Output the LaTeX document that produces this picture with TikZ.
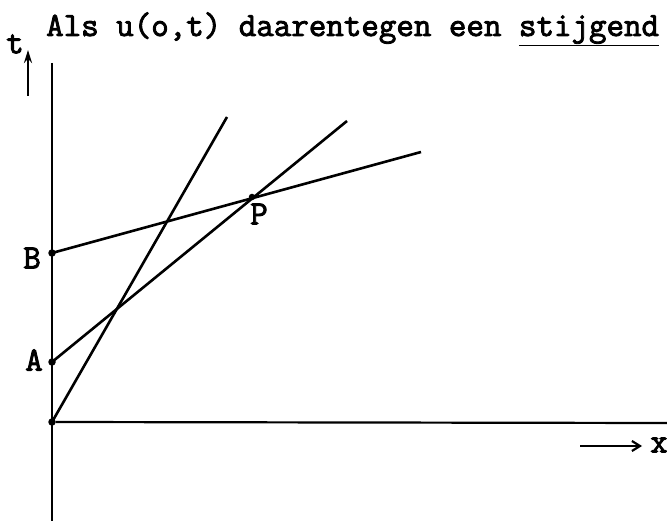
\documentclass[tikz,border=0pt]{standalone}
\usepackage{fontspec}
\newfontfamily\typew{Latin Modern Mono}[FakeBold=2.6,AutoFakeBold=2.6]
\usetikzlibrary{arrows.meta}
\begin{document}
\begin{tikzpicture}[x=1pt,y=-1pt,
  every node/.style={font=\typew\bfseries\fontsize{34}{35}\selectfont},
  dot/.style={circle,fill,inner sep=0pt,minimum size=7.5pt},
  chr/.style={line width=2.6pt}]
\useasboundingbox (0,0) rectangle (667,521);
% title line
\node[anchor=base west,inner sep=0pt] (title) at (46,36) {Als u(o,t) daarentegen een \underline{stijgend}};
% axes
\coordinate (ttop) at (52,63);
\coordinate (tbot) at (52,521);
\coordinate (xend) at (667,423);
\node[dot] (O) at (52,422) {};
\node[dot] (A) at (52,362) {};
\node[dot] (B) at (52,253) {};
\draw[line width=2.2pt] (ttop) -- (tbot);
\draw[line width=2.2pt] (O) -- (xend);
\node (tlab) at (15,44) {t};
\coordinate (tup1) at (28,96);
\coordinate (tup2) at (28,50);
\draw[line width=2.2pt,-{Stealth[length=13pt,width=8pt]}] (tup1) -- (tup2);
\node[anchor=east,inner sep=0pt] (xlab) at (668,445) {x};
\coordinate (xar1) at (580,446);
\coordinate (xar2) at (642,446);
\draw[line width=2.2pt,-{Straight Barb[length=8pt,width=10pt]}] (xar1) -- (xar2);
\node[anchor=east,inner sep=2pt] (Blab) at (43,258) {B};
\node[anchor=east,inner sep=2pt] (Alab) at (45,360) {A};
% the three straight lines
\coordinate (s1) at (227,117);
\coordinate (s2) at (347,121);
\coordinate (s3) at (421,152);
\draw[chr] (O.center) -- (s1);
\draw[chr] (A.center) -- (s2);
\draw[chr] (B.center) -- (s3);
\node[dot,minimum size=6.5pt] (P) at (252,197) {};
\node (Plab) at (259,214) {P};
\end{tikzpicture}
\end{document}
